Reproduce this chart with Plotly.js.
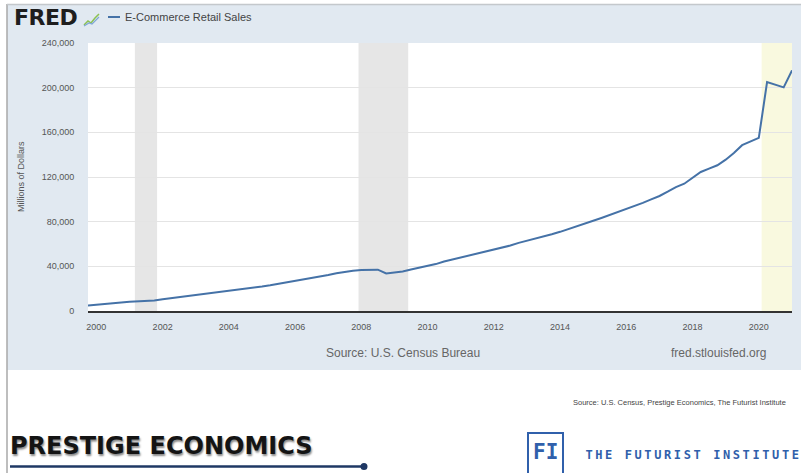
<!DOCTYPE html>
<html>
<head>
<meta charset="utf-8">
<script src="https://cdn.plot.ly/plotly-3.0.1.min.js"></script>
<style>
html,body{margin:0;padding:0;background:#fff;}
#chart{width:801px;height:473px;}
</style>
</head>
<body>
<div id="chart"></div>
<script>
// ---- Data ----
const seriesName = "E-Commerce Retail Sales";
const quarterDates = [
  "1999-10-01",
  "2000-01-01","2000-04-01","2000-07-01","2000-10-01",
  "2001-01-01","2001-04-01","2001-07-01","2001-10-01",
  "2002-01-01","2002-04-01","2002-07-01","2002-10-01",
  "2003-01-01","2003-04-01","2003-07-01","2003-10-01",
  "2004-01-01","2004-04-01","2004-07-01","2004-10-01",
  "2005-01-01","2005-04-01","2005-07-01","2005-10-01",
  "2006-01-01","2006-04-01","2006-07-01","2006-10-01",
  "2007-01-01","2007-04-01","2007-07-01","2007-10-01",
  "2008-01-01","2008-04-01","2008-07-01","2008-10-01",
  "2009-01-01","2009-04-01","2009-07-01","2009-10-01",
  "2010-01-01","2010-04-01","2010-07-01","2010-10-01",
  "2011-01-01","2011-04-01","2011-07-01","2011-10-01",
  "2012-01-01","2012-04-01","2012-07-01","2012-10-01",
  "2013-01-01","2013-04-01","2013-07-01","2013-10-01",
  "2014-01-01","2014-04-01","2014-07-01","2014-10-01",
  "2015-01-01","2015-04-01","2015-07-01","2015-10-01",
  "2016-01-01","2016-04-01","2016-07-01","2016-10-01",
  "2017-01-01","2017-04-01","2017-07-01","2017-10-01",
  "2018-01-01","2018-04-01","2018-07-01","2018-10-01",
  "2019-01-01","2019-04-01","2019-07-01","2019-10-01",
  "2020-01-01","2020-04-01","2020-07-01","2020-10-01",
  "2021-01-01"
];
const salesMillions = [
  5000,
  5800, 6500, 7200, 7700,
  8200, 8500, 8700, 9400,
  10500, 11400, 12300, 13200,
  14000, 14900, 15900, 16900,
  17800, 18700, 19800, 20900,
  21900, 23000, 24300, 25500,
  26600, 27800, 29200, 30500,
  32200, 33800, 35200, 36100,
  36700, 37100, 37000, 33600,
  34600, 35400, 37200, 38600,
  40200, 42000, 44300, 46100,
  47500, 49300, 50800, 52600,
  55000, 56800, 58600, 61000,
  62800, 64600, 66500, 68700,
  70900, 73500, 76200, 78500,
  80800, 83300, 85900, 88600,
  91300, 94000, 96800, 99900,
  103000, 106800, 111000, 114000,
  119000, 124500, 127500, 130500,
  135500, 141500, 148500, 152000,
  155000, 205000, 202700, 200300,
  215500
];
const recessionStarts = ["2001-03-01", "2007-12-01"];
const recessionEnds   = ["2001-11-01", "2009-06-01"];
const recentStart = "2020-02-01";
const recentEnd   = "2021-01-01";
const yTickValues = [0, 40000, 80000, 120000, 160000, 200000, 240000];
const xRange = ["1999-10-01", "2021-01-01"];

// ---- Layout helpers (pixel -> paper) ----
const ML = 88, MR = 9, MT = 43, MB = 162, W = 801, H = 473;
const PW = W - ML - MR, PH = H - MT - MB;
const px = x => (x - ML) / PW;
const py = y => (H - MB - y) / PH;

const LINE_BLUE = "#4572a7";
const FI_BLUE = "#3060ab";

const shapes = [];
// FRED frame background
shapes.push({type:"rect", xref:"paper", yref:"paper", x0:px(7), x1:px(806), y0:py(370), y1:py(4),
  fillcolor:"#e1e9f1", line:{width:0}, layer:"below"});
// plot area white
shapes.push({type:"rect", xref:"paper", yref:"paper", x0:0, x1:1, y0:0, y1:1,
  fillcolor:"#ffffff", line:{width:0}, layer:"below"});
// frame borders
shapes.push({type:"line", xref:"paper", yref:"paper", x0:px(7), x1:px(7), y0:py(4), y1:py(476),
  line:{color:"#a9a9a9", width:1.5}, layer:"above"});
shapes.push({type:"line", xref:"paper", yref:"paper", x0:px(7), x1:px(806), y0:py(4.5), y1:py(4.5),
  line:{color:"#c4c8cc", width:1.5}, layer:"above"});
// recession shading
for (let i = 0; i < recessionStarts.length; i++) {
  shapes.push({type:"rect", xref:"x", yref:"paper", x0:recessionStarts[i], x1:recessionEnds[i], y0:0, y1:1,
    fillcolor:"#e6e6e6", line:{width:0}, layer:"between"});
}
shapes.push({type:"rect", xref:"x", yref:"paper", x0:recentStart, x1:recentEnd, y0:0, y1:1,
  fillcolor:"#f9f9df", line:{width:0}, layer:"between"});
// legend line
shapes.push({type:"line", xref:"paper", yref:"paper", x0:px(108), x1:px(120), y0:py(17), y1:py(17),
  line:{color:LINE_BLUE, width:2}, layer:"above"});
// small FRED graph icon
const iconPts = [[84,25],[88,21],[91,23],[95,18],[99,14]];
const iconPts2 = [[84,26],[89,23],[92,24],[96,20],[99,17]];
const toPath = pts => pts.map((p,i)=> (i?"L":"M") + px(p[0]).toFixed(5) + "," + py(p[1]).toFixed(5)).join(" ");
shapes.push({type:"path", xref:"paper", yref:"paper", path:toPath(iconPts), line:{color:"#8cc152", width:1.5}, layer:"above"});
shapes.push({type:"path", xref:"paper", yref:"paper", path:toPath(iconPts2), line:{color:"#7fa7d6", width:1.2}, layer:"above"});
// Prestige underline + dot
shapes.push({type:"line", xref:"paper", yref:"paper", x0:px(10), x1:px(363), y0:py(466.5), y1:py(466.5),
  line:{color:"#1f3864", width:2.5}, layer:"above"});
shapes.push({type:"circle", xref:"paper", yref:"paper", x0:px(360.5), x1:px(367.5), y0:py(470), y1:py(463),
  fillcolor:"#1f3864", line:{width:0}, layer:"above"});
// FI box
shapes.push({type:"rect", xref:"paper", yref:"paper", x0:px(528), x1:px(563), y0:py(476), y1:py(433),
  line:{color:FI_BLUE, width:2}, fillcolor:"rgba(0,0,0,0)", layer:"above"});

const annFont = {family:"Liberation Sans, Arial, sans-serif"};
const annotations = [
  {text:"<b>FRED</b>", x:px(12), y:py(18), xanchor:"left", yanchor:"middle",
   font:{family:"DejaVu Sans, sans-serif", size:22, color:"#1e1e1e"}},
  {text:seriesName, x:px(124), y:py(17), xanchor:"left", yanchor:"middle",
   font:{family:annFont.family, size:11, color:"#444"}},
  {text:"Millions of Dollars", x:px(21), y:py(177), xanchor:"center", yanchor:"middle", textangle:-90,
   font:{family:annFont.family, size:9, color:"#555"}},
  {text:"Source: U.S. Census Bureau", x:px(403), y:py(353), xanchor:"center", yanchor:"middle",
   font:{family:annFont.family, size:12, color:"#666"}},
  {text:"fred.stlouisfed.org", x:px(767), y:py(353), xanchor:"right", yanchor:"middle",
   font:{family:annFont.family, size:12, color:"#666"}},
  {text:"Source: U.S. Census, Prestige Economics, The Futurist Institute", x:px(787), y:py(402), xanchor:"right", yanchor:"middle",
   font:{family:"Liberation Sans, sans-serif", size:7.5, color:"#444"}},
  {text:"<b>PRESTIGE ECONOMICS</b>", x:px(9), y:py(446), xanchor:"left", yanchor:"middle",
   font:{family:"DejaVu Sans, sans-serif", size:24, color:"#141414", shadow:"1px 2px 2px #8a8a8a"}},
  {text:"<b>FI</b>", x:px(545.5), y:py(452), xanchor:"center", yanchor:"middle",
   font:{family:"DejaVu Sans Mono, monospace", size:21, color:FI_BLUE}},
  {text:"<b>THE FUTURIST INSTITUTE</b>", x:px(693), y:py(455), xanchor:"center", yanchor:"middle",
   font:{family:"DejaVu Sans Mono, monospace", size:12, color:FI_BLUE}}
].map(a => Object.assign({xref:"paper", yref:"paper", showarrow:false, borderpad:0}, a));

const trace = {
  type:"scatter", mode:"lines", name:seriesName,
  x:quarterDates, y:salesMillions,
  line:{color:LINE_BLUE, width:2},
  hoverinfo:"x+y"
};

const layout = {
  width:W, height:H,
  margin:{l:ML, r:MR, t:MT, b:MB, pad:0},
  paper_bgcolor:"#ffffff",
  plot_bgcolor:"#ffffff",
  showlegend:false,
  font:{family:"Liberation Sans, Arial, sans-serif", size:9, color:"#555"},
  xaxis:{
    type:"date", range:xRange, tick0:"2000-01-01", dtick:"M24", tickformat:"%Y",
    showgrid:false, zeroline:false,
    showline:true, linecolor:"#333", linewidth:2,
    ticks:"outside", ticklen:6, tickcolor:"rgba(0,0,0,0)",
    tickfont:{family:"Liberation Sans, Arial, sans-serif", size:9, color:"#555"},
    fixedrange:true
  },
  yaxis:{
    range:[0, 240000], tickvals:yTickValues, tickformat:",d",
    showgrid:true, gridcolor:"#e4e4e4", gridwidth:1,
    zeroline:false, showline:false,
    ticks:"outside", ticklen:11, tickcolor:"rgba(0,0,0,0)",
    tickfont:{family:"Liberation Sans, Arial, sans-serif", size:9, color:"#555"},
    fixedrange:true
  },
  shapes:shapes,
  annotations:annotations
};

Plotly.newPlot("chart", [trace], layout, {displayModeBar:false, staticPlot:true}).then(function(gd){
  // letter-spacing for the institute wordmark and tight tracking for the FRED logo
  gd.querySelectorAll(".annotation-text").forEach(function(t){
    const s = t.textContent;
    if (s === "THE FUTURIST INSTITUTE") t.setAttribute("letter-spacing", "2.6px");
    if (s === "FRED") t.setAttribute("letter-spacing", "-0.5px");
  });
});
</script>
</body>
</html>
